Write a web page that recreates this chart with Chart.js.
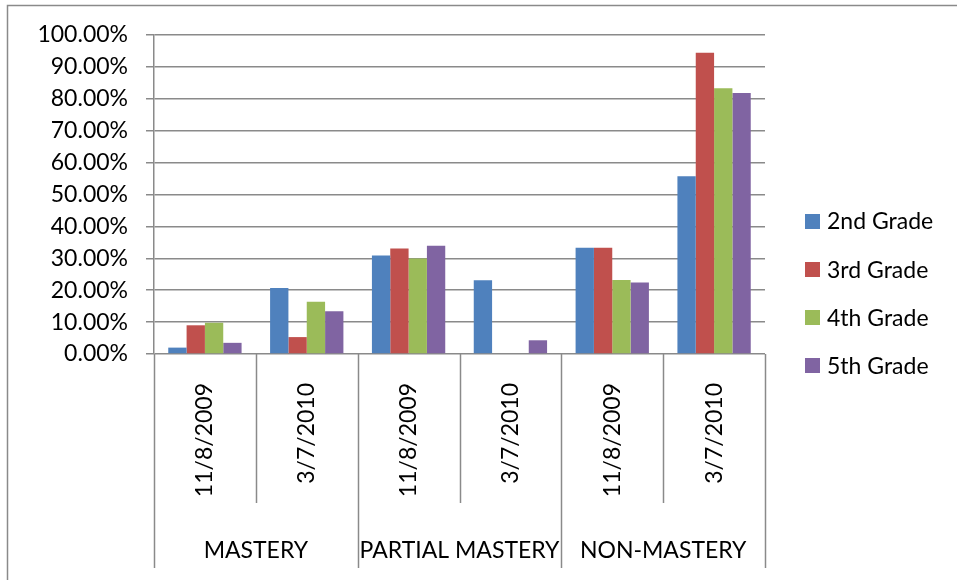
<!DOCTYPE html>
<html>
<head>
<meta charset="utf-8">
<script src="https://cdn.jsdelivr.net/npm/chart.js@4.4.0/dist/chart.umd.min.js"></script>
<style>
  html, body { margin: 0; padding: 0; background: #ffffff; }
  #wrap { position: relative; width: 957px; height: 580px; overflow: hidden; }
</style>
</head>
<body>
<div id="wrap"><canvas id="chart" width="957" height="580"></canvas></div>
<script>
// Test dates (inner category level) and mastery levels (outer level)
const dates = ['11/8/2009', '3/7/2010', '11/8/2009', '3/7/2010', '11/8/2009', '3/7/2010'];
const levels = ['MASTERY', 'PARTIAL MASTERY', 'NON-MASTERY'];
const gradeNames = ['2nd Grade', '3rd Grade', '4th Grade', '5th Grade'];

// Share of students per grade, as fractions
const grade2 = [0.020, 0.207, 0.309, 0.231, 0.333, 0.557];
const grade3 = [0.090, 0.053, 0.331, 0.000, 0.333, 0.944];
const grade4 = [0.098, 0.164, 0.299, 0.000, 0.232, 0.833];
const grade5 = [0.035, 0.134, 0.339, 0.043, 0.224, 0.818];

const gradeColors = ['#4F81BD', '#C0504D', '#9BBB59', '#8064A2'];
const FONT = 'Lato, "Open Sans", sans-serif';
const FONT_SIZE = 23;
const LINE = '#8a8a8a';

// Outer frame around the whole chart object
const framePlugin = {
  id: 'frame',
  beforeDraw(chart) {
    const ctx = chart.ctx;
    ctx.save();
    ctx.strokeStyle = LINE;
    ctx.lineWidth = 1.5;
    ctx.beginPath();
    ctx.moveTo(7.5, 600);
    ctx.lineTo(7.5, 5.5);
    ctx.lineTo(980, 5.5);
    ctx.stroke();
    ctx.restore();
  }
};

// Separator lines of the two-level category axis
const separatorPlugin = {
  id: 'separators',
  afterDraw(chart) {
    const xs = chart.scales.x;
    const ctx = chart.ctx;
    const n = dates.length;
    const top = chart.chartArea.bottom;
    ctx.save();
    ctx.strokeStyle = LINE;
    ctx.lineWidth = 1.5;
    for (let i = 0; i <= n; i++) {
      let px;
      if (i === 0) px = xs.left;
      else if (i === n) px = xs.right;
      else px = (xs.getPixelForValue(i - 1) + xs.getPixelForValue(i)) / 2;
      const isGroup = i % 2 === 0;
      const end = isGroup ? xs.bottom + 64 : xs.bottom - 1;
      ctx.beginPath();
      ctx.moveTo(Math.round(px) + 0.5, top);
      ctx.lineTo(Math.round(px) + 0.5, end);
      ctx.stroke();
    }
    ctx.restore();
  }
};

// Legend column on the right, centred on the chart object
const sideLegendPlugin = {
  id: 'sideLegend',
  afterDraw(chart) {
    const ctx = chart.ctx;
    ctx.save();
    ctx.font = FONT_SIZE + 'px ' + FONT;
    ctx.textBaseline = 'middle';
    ctx.textAlign = 'left';
    chart.data.datasets.forEach((ds, i) => {
      const cy = 221 + i * 48.3;
      ctx.fillStyle = ds.backgroundColor;
      ctx.fillRect(805, Math.round(cy - 7.5), 15, 15);
      ctx.fillStyle = '#000000';
      ctx.fillText(ds.label, 827, cy + 1);
    });
    ctx.restore();
  }
};

const seriesValues = [grade2, grade3, grade4, grade5];

new Chart(document.getElementById('chart'), {
  type: 'bar',
  data: {
    labels: dates,
    datasets: seriesValues.map((vals, i) => ({
      label: gradeNames[i],
      data: vals,
      backgroundColor: gradeColors[i],
      borderWidth: 0,
      categoryPercentage: 0.72,
      barPercentage: 1.0,
      xAxisID: 'x',
      yAxisID: 'y'
    }))
  },
  options: {
    responsive: false,
    animation: false,
    devicePixelRatio: 1,
    layout: { padding: { left: 10, right: 192, top: 35, bottom: 0 } },
    plugins: {
      legend: { display: false },
      title: { display: false },
      tooltip: { enabled: false }
    },
    scales: {
      y: {
        min: 0,
        max: 1,
        ticks: {
          stepSize: 0.1,
          color: '#000000',
          font: { family: FONT, size: FONT_SIZE },
          padding: 18,
          callback: (v) => (v * 100).toFixed(2) + '%'
        },
        grid: { color: LINE, lineWidth: 1.5, tickLength: 8 },
        border: { color: LINE, width: 1.5 },
        afterFit: (s) => { s.width = 144; }
      },
      x: {
        type: 'category',
        offset: true,
        weight: 0,
        grid: { display: false },
        border: { display: false },
        ticks: {
          autoSkip: false,
          minRotation: 90,
          maxRotation: 90,
          color: '#000000',
          font: { family: FONT, size: FONT_SIZE },
          padding: 21
        },
        afterFit: (s) => { s.height = 150; }
      },
      x2: {
        type: 'category',
        position: 'bottom',
        labels: levels,
        offset: true,
        weight: 1,
        grid: { display: false },
        border: { display: false },
        ticks: {
          autoSkip: false,
          minRotation: 0,
          maxRotation: 0,
          color: '#000000',
          font: { family: FONT, size: FONT_SIZE },
          padding: 25
        },
        afterFit: (s) => { s.height = 76; }
      }
    }
  },
  plugins: [framePlugin, separatorPlugin, sideLegendPlugin]
});
</script>
</body>
</html>
